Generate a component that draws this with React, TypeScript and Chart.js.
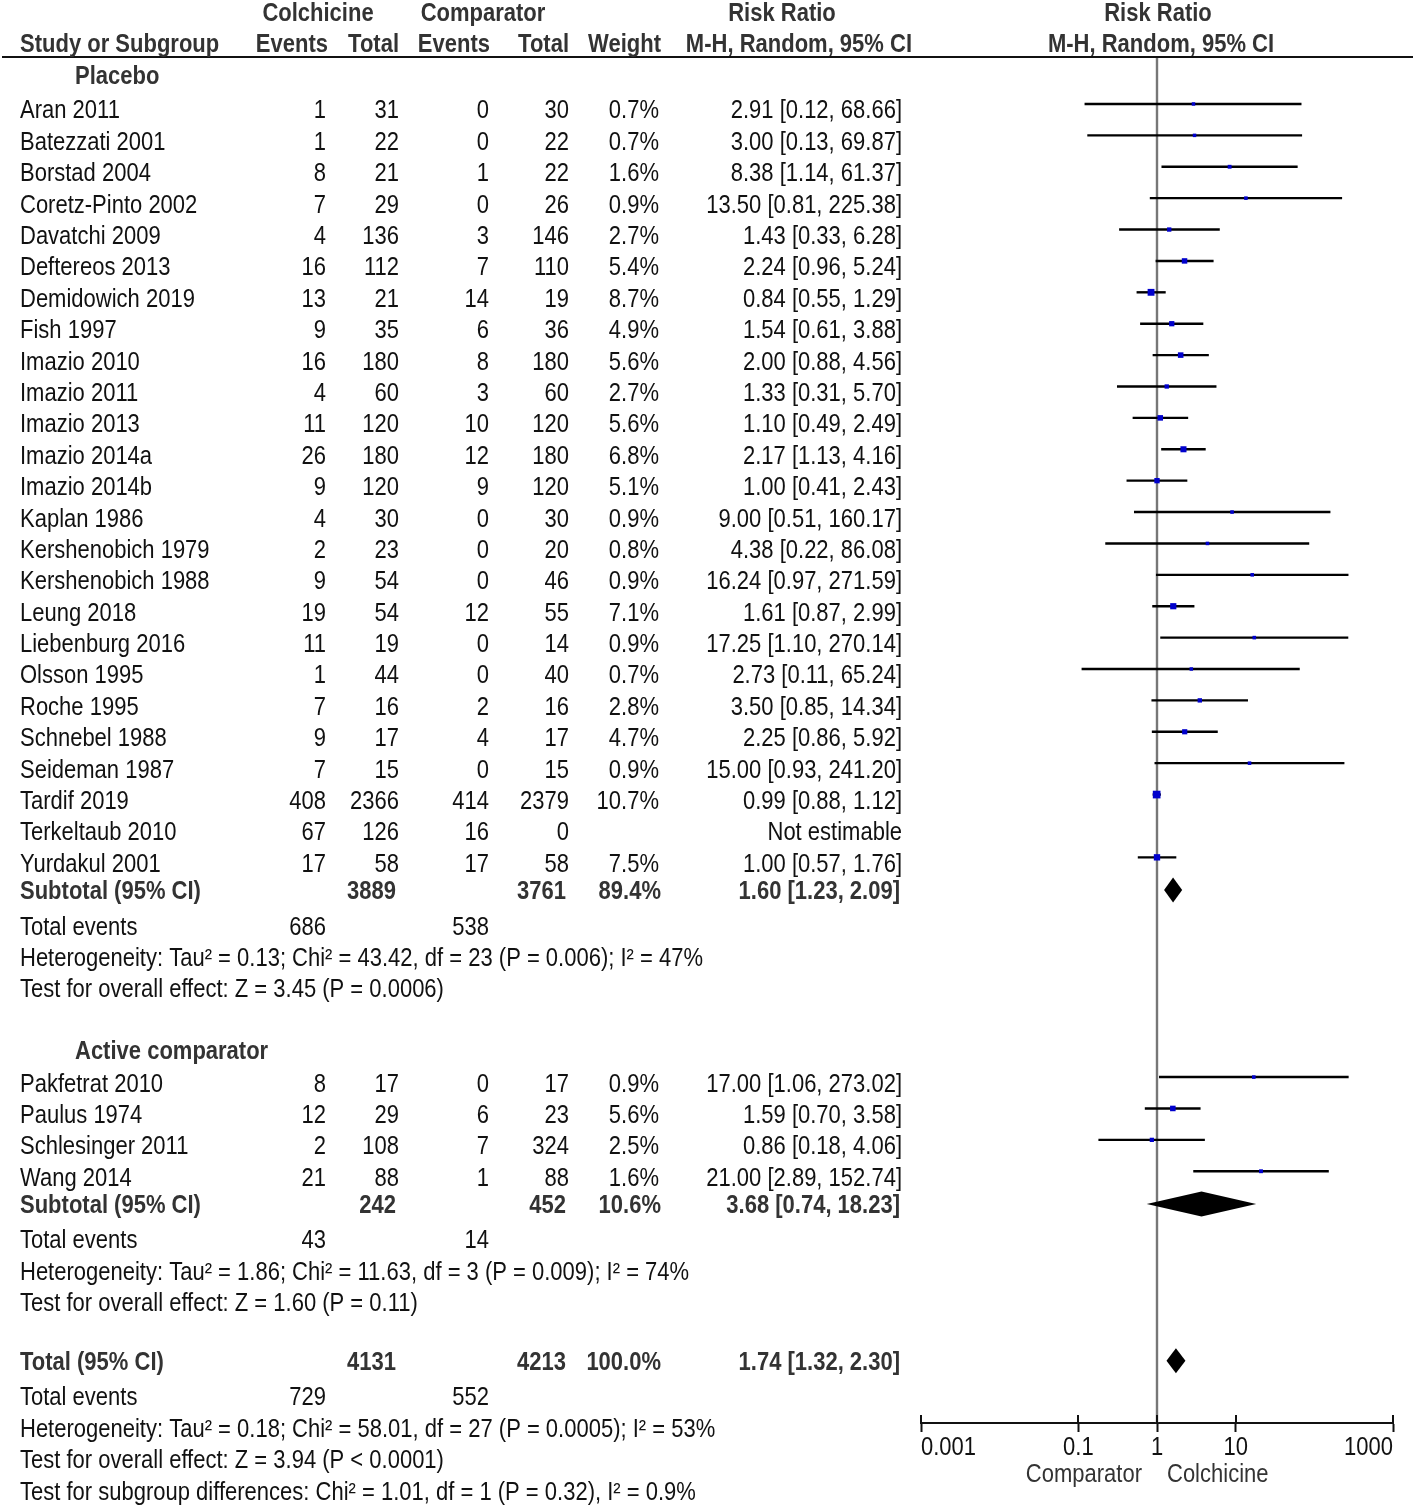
import React, { useEffect, useRef } from "react";
import { Chart, registerables } from "chart.js";

Chart.register(...registerables);

// ---------- DATA ----------
const studyNames = [
  "Aran 2011", "Batezzati 2001", "Borstad 2004", "Coretz-Pinto 2002", "Davatchi 2009",
  "Deftereos 2013", "Demidowich 2019", "Fish 1997", "Imazio 2010", "Imazio 2011",
  "Imazio 2013", "Imazio 2014a", "Imazio 2014b", "Kaplan 1986", "Kershenobich 1979",
  "Kershenobich 1988", "Leung 2018", "Liebenburg 2016", "Olsson 1995", "Roche 1995",
  "Schnebel 1988", "Seideman 1987", "Tardif 2019", "Terkeltaub 2010", "Yurdakul 2001",
  "Pakfetrat 2010", "Paulus 1974", "Schlesinger 2011", "Wang 2014",
];
const studyGroups = [
  0, 0, 0, 0, 0, 0, 0, 0, 0, 0, 0, 0, 0, 0, 0, 0, 0, 0, 0, 0, 0, 0, 0, 0, 0,
  1, 1, 1, 1,
];
const colchicineEvents = [1, 1, 8, 7, 4, 16, 13, 9, 16, 4, 11, 26, 9, 4, 2, 9, 19, 11, 1, 7, 9, 7, 408, 67, 17, 8, 12, 2, 21];
const colchicineTotals = [31, 22, 21, 29, 136, 112, 21, 35, 180, 60, 120, 180, 120, 30, 23, 54, 54, 19, 44, 16, 17, 15, 2366, 126, 58, 17, 29, 108, 88];
const comparatorEvents = [0, 0, 1, 0, 3, 7, 14, 6, 8, 3, 10, 12, 9, 0, 0, 0, 12, 0, 0, 2, 4, 0, 414, 16, 17, 0, 6, 7, 1];
const comparatorTotals = [30, 22, 22, 26, 146, 110, 19, 36, 180, 60, 120, 180, 120, 30, 20, 46, 55, 14, 40, 16, 17, 15, 2379, 0, 58, 17, 23, 324, 88];
const weights: (number | null)[] = [0.7, 0.7, 1.6, 0.9, 2.7, 5.4, 8.7, 4.9, 5.6, 2.7, 5.6, 6.8, 5.1, 0.9, 0.8, 0.9, 7.1, 0.9, 0.7, 2.8, 4.7, 0.9, 10.7, null, 7.5, 0.9, 5.6, 2.5, 1.6];
const riskRatios: (number | null)[] = [2.91, 3.0, 8.38, 13.5, 1.43, 2.24, 0.84, 1.54, 2.0, 1.33, 1.1, 2.17, 1.0, 9.0, 4.38, 16.24, 1.61, 17.25, 2.73, 3.5, 2.25, 15.0, 0.99, null, 1.0, 17.0, 1.59, 0.86, 21.0];
const ciLower: (number | null)[] = [0.12, 0.13, 1.14, 0.81, 0.33, 0.96, 0.55, 0.61, 0.88, 0.31, 0.49, 1.13, 0.41, 0.51, 0.22, 0.97, 0.87, 1.1, 0.11, 0.85, 0.86, 0.93, 0.88, null, 0.57, 1.06, 0.7, 0.18, 2.89];
const ciUpper: (number | null)[] = [68.66, 69.87, 61.37, 225.38, 6.28, 5.24, 1.29, 3.88, 4.56, 5.7, 2.49, 4.16, 2.43, 160.17, 86.08, 271.59, 2.99, 270.14, 65.24, 14.34, 5.92, 241.2, 1.12, null, 1.76, 273.02, 3.58, 4.06, 152.74];

const groupNames = ["Placebo", "Active comparator"];
const summaryLabels = ["Subtotal (95% CI)", "Subtotal (95% CI)", "Total (95% CI)"];
const summaryColTotals = [3889, 242, 4131];
const summaryCmpTotals = [3761, 452, 4213];
const summaryWeights = ["89.4%", "10.6%", "100.0%"];
const summaryRR = [1.6, 3.68, 1.74];
const summaryLower = [1.23, 0.74, 1.32];
const summaryUpper = [2.09, 18.23, 2.3];
const totalEventsCol = [686, 43, 729];
const totalEventsCmp = [538, 14, 552];
const heterogeneityTexts = [
  "Heterogeneity: Tau² = 0.13; Chi² = 43.42, df = 23 (P = 0.006); I² = 47%",
  "Heterogeneity: Tau² = 1.86; Chi² = 11.63, df = 3 (P = 0.009); I² = 74%",
  "Heterogeneity: Tau² = 0.18; Chi² = 58.01, df = 27 (P = 0.0005); I² = 53%",
];
const overallEffectTexts = [
  "Test for overall effect: Z = 3.45 (P = 0.0006)",
  "Test for overall effect: Z = 1.60 (P = 0.11)",
  "Test for overall effect: Z = 3.94 (P < 0.0001)",
];
const subgroupDiffText = "Test for subgroup differences: Chi² = 1.01, df = 1 (P = 0.32), I² = 0.9%";
const xTickValues = [0.001, 0.1, 1, 10, 1000];
const xTickLabels = ["0.001", "0.1", "1", "10", "1000"];
const favoursLeft = "Comparator";
const favoursRight = "Colchicine";

// ---------- LAYOUT ----------
const W = 1418;
const H = 1506;
const ROW0 = 109; // pixel centre of first study row
const ROW_H = 31.39;
const AREA_TOP = 58;
const AREA_BOTTOM = 1423;
const AREA_LEFT = 921;
const AREA_RIGHT = 1393;
const Y_MIN = (AREA_TOP - ROW0) / ROW_H;
const Y_MAX = (AREA_BOTTOM - ROW0) / ROW_H;
const SY = 1.2; // vertical stretch of text
const FONT_PX = 22;
const BASE_OFF = 9.45;
const STUDY_PLOT_OFF = -0.16;

// row index of each study
const studyRows = studyGroups.map((g, i) => {
  if (g === 0) return i;
  const firstActive = studyGroups.indexOf(1);
  return 31 + (i - firstActive);
});
const summaryRows = [24.88, 34.88, 39.88];
const groupHeaderRows = [-1.11, 29.95];
const footRowsStart = [26, 36, 41];

const COL = {
  name: 20,
  group: 75,
  colEv: 326,
  colTot: 399,
  cmpEv: 489,
  cmpTot: 569,
  weight: 659,
  rr: 902,
};

const fmt2 = (v: number) => v.toFixed(2);

function drawText(
  ctx: CanvasRenderingContext2D,
  s: string,
  x: number,
  yBase: number,
  align: CanvasTextAlign,
  bold: boolean,
  color: string
) {
  ctx.save();
  ctx.translate(x, yBase);
  ctx.scale(1, SY);
  ctx.font = `${bold ? "bold " : ""}${FONT_PX}px "Liberation Sans", Arial, sans-serif`;
  ctx.fillStyle = color;
  ctx.textAlign = align;
  ctx.textBaseline = "alphabetic";
  ctx.fillText(s, 0, 0);
  ctx.restore();
}

const TXT = "#111111";
const BOLD_TXT = "#333333";

const forestPlugin = {
  id: "forestPlot",
  afterDatasetsDraw(chart: any) {
    const ctx: CanvasRenderingContext2D = chart.ctx;
    const xs = chart.scales.x;
    const ys = chart.scales.y;
    ctx.save();
    ctx.fillStyle = "#000000";
    summaryRows.forEach((r, i) => {
      const yc = ys.getPixelForValue(r);
      const xl = xs.getPixelForValue(summaryLower[i]);
      const xc = xs.getPixelForValue(summaryRR[i]);
      const xr = xs.getPixelForValue(summaryUpper[i]);
      const hh = 12.5;
      ctx.beginPath();
      ctx.moveTo(xl, yc);
      ctx.lineTo(xc, yc - hh);
      ctx.lineTo(xr, yc);
      ctx.lineTo(xc, yc + hh);
      ctx.closePath();
      ctx.fill();
    });
    ctx.restore();
  },
  afterDraw(chart: any) {
    const ctx: CanvasRenderingContext2D = chart.ctx;
    const xs = chart.scales.x;
    const ys = chart.scales.y;
    const base = (r: number) => ys.getPixelForValue(r) + BASE_OFF;

    // header rule
    ctx.save();
    ctx.strokeStyle = "#111111";
    ctx.lineWidth = 2;
    ctx.beginPath();
    ctx.moveTo(2, AREA_TOP - 1);
    ctx.lineTo(1413, AREA_TOP - 1);
    ctx.stroke();
    ctx.restore();

    // column headers
    const h1 = base(-3.12);
    const h2 = base(-2.11);
    drawText(ctx, "Colchicine", 318, h1, "center", true, BOLD_TXT);
    drawText(ctx, "Comparator", 483, h1, "center", true, BOLD_TXT);
    drawText(ctx, "Risk Ratio", 782, h1, "center", true, BOLD_TXT);
    drawText(ctx, "Risk Ratio", 1158, h1, "center", true, BOLD_TXT);
    drawText(ctx, "Study or Subgroup", COL.name, h2, "left", true, BOLD_TXT);
    drawText(ctx, "Events", 328, h2, "right", true, BOLD_TXT);
    drawText(ctx, "Total", 399, h2, "right", true, BOLD_TXT);
    drawText(ctx, "Events", 490, h2, "right", true, BOLD_TXT);
    drawText(ctx, "Total", 569, h2, "right", true, BOLD_TXT);
    drawText(ctx, "Weight", 661, h2, "right", true, BOLD_TXT);
    drawText(ctx, "M-H, Random, 95% CI", 912, h2, "right", true, BOLD_TXT);
    drawText(ctx, "M-H, Random, 95% CI", 1161, h2, "center", true, BOLD_TXT);

    // group headers
    groupNames.forEach((g, i) => {
      drawText(ctx, g, COL.group, base(groupHeaderRows[i]), "left", true, BOLD_TXT);
    });

    // study rows
    studyNames.forEach((name, i) => {
      const yb = base(studyRows[i]);
      drawText(ctx, name, COL.name, yb, "left", false, TXT);
      drawText(ctx, String(colchicineEvents[i]), COL.colEv, yb, "right", false, TXT);
      drawText(ctx, String(colchicineTotals[i]), COL.colTot, yb, "right", false, TXT);
      drawText(ctx, String(comparatorEvents[i]), COL.cmpEv, yb, "right", false, TXT);
      drawText(ctx, String(comparatorTotals[i]), COL.cmpTot, yb, "right", false, TXT);
      const w = weights[i];
      if (w !== null) drawText(ctx, `${w.toFixed(1)}%`, COL.weight, yb, "right", false, TXT);
      const rr = riskRatios[i];
      const lo = ciLower[i];
      const hi = ciUpper[i];
      const s = rr !== null && lo !== null && hi !== null
        ? `${fmt2(rr)} [${fmt2(lo)}, ${fmt2(hi)}]`
        : "Not estimable";
      drawText(ctx, s, COL.rr, yb, "right", false, TXT);
    });

    // summary rows
    summaryRows.forEach((r, i) => {
      const yb = base(r);
      drawText(ctx, summaryLabels[i], COL.name, yb, "left", true, BOLD_TXT);
      drawText(ctx, String(summaryColTotals[i]), 396, yb, "right", true, BOLD_TXT);
      drawText(ctx, String(summaryCmpTotals[i]), 566, yb, "right", true, BOLD_TXT);
      drawText(ctx, summaryWeights[i], 661, yb, "right", true, BOLD_TXT);
      drawText(
        ctx,
        `${fmt2(summaryRR[i])} [${fmt2(summaryLower[i])}, ${fmt2(summaryUpper[i])}]`,
        900, yb, "right", true, BOLD_TXT
      );
    });

    // footnotes
    footRowsStart.forEach((r, i) => {
      const y0 = base(r);
      drawText(ctx, "Total events", COL.name, y0, "left", false, TXT);
      drawText(ctx, String(totalEventsCol[i]), COL.colEv, y0, "right", false, TXT);
      drawText(ctx, String(totalEventsCmp[i]), COL.cmpEv, y0, "right", false, TXT);
      drawText(ctx, heterogeneityTexts[i], COL.name, base(r + 1), "left", false, TXT);
      drawText(ctx, overallEffectTexts[i], COL.name, base(r + 2), "left", false, TXT);
    });
    drawText(ctx, subgroupDiffText, COL.name, base(44), "left", false, TXT);

    // axis: inward tick halves + labels
    const ab = chart.chartArea.bottom;
    ctx.save();
    ctx.strokeStyle = "#111111";
    ctx.lineWidth = 2;
    xTickValues.forEach((v) => {
      const px = Math.round(xs.getPixelForValue(v));
      ctx.beginPath();
      ctx.moveTo(px, ab - 8);
      ctx.lineTo(px, ab);
      ctx.stroke();
    });
    ctx.restore();
    xTickValues.forEach((v, i) => {
      const px = xs.getPixelForValue(v);
      const align: CanvasTextAlign = i === 0 ? "left" : i === xTickValues.length - 1 ? "right" : "center";
      drawText(ctx, xTickLabels[i], px, ab + 31.5, align, false, TXT);
    });
    const onePx = xs.getPixelForValue(1);
    drawText(ctx, favoursLeft, onePx - 15, ab + 58.5, "right", false, "#333333");
    drawText(ctx, favoursRight, onePx + 10, ab + 58.5, "left", false, "#333333");
  },
};

export default function App() {
  const canvasRef = useRef<HTMLCanvasElement | null>(null);

  useEffect(() => {
    const canvas = canvasRef.current;
    if (!canvas) return;

    const ciDatasets = studyNames
      .map((name, i) => ({ name, i }))
      .filter(({ i }) => ciLower[i] !== null && ciUpper[i] !== null)
      .map(({ name, i }) => ({
        label: name,
        data: [
          { x: ciLower[i] as number, y: studyRows[i] + STUDY_PLOT_OFF },
          { x: ciUpper[i] as number, y: studyRows[i] + STUDY_PLOT_OFF },
        ],
        showLine: true,
        borderColor: "#000000",
        borderWidth: 2.4,
        pointRadius: 0,
        order: 2,
      }));

    const squareIdx = studyNames.map((_, i) => i).filter((i) => riskRatios[i] !== null);
    const squares = {
      label: "Risk ratio",
      data: squareIdx.map((i) => ({ x: riskRatios[i] as number, y: studyRows[i] + STUDY_PLOT_OFF })),
      pointStyle: "rect",
      pointRadius: squareIdx.map((i) => (3.2 + 0.42 * (weights[i] as number)) / Math.SQRT2),
      backgroundColor: "#0000cc",
      borderColor: "#0000cc",
      borderWidth: 0,
      showLine: false,
      order: 0,
    };

    const refLine = {
      label: "No effect",
      data: [
        { x: 1, y: Y_MIN },
        { x: 1, y: Y_MAX },
      ],
      showLine: true,
      borderColor: "#777777",
      borderWidth: 2.4,
      pointRadius: 0,
      order: 5,
    };

    const chart = new Chart(canvas, {
      type: "scatter",
      data: { datasets: [squares, ...ciDatasets, refLine] as any },
      options: {
        responsive: false,
        animation: false,
        devicePixelRatio: 1,
        events: [],
        layout: { padding: { left: AREA_LEFT, right: W - AREA_RIGHT, top: AREA_TOP, bottom: 0 } },
        plugins: { legend: { display: false }, tooltip: { enabled: false }, title: { display: false } },
        scales: {
          x: {
            type: "logarithmic",
            min: 0.001,
            max: 1000,
            position: "bottom",
            border: { display: true, color: "#111111", width: 2 },
            grid: {
              display: true,
              drawOnChartArea: false,
              drawTicks: true,
              tickLength: 9,
              tickWidth: 2,
              tickColor: "#111111",
            },
            ticks: { display: false },
            afterBuildTicks: (scale: any) => {
              scale.ticks = xTickValues.map((v) => ({ value: v }));
            },
            afterFit: (scale: any) => {
              scale.height = H - AREA_BOTTOM;
            },
          },
          y: {
            type: "linear",
            display: false,
            reverse: true,
            min: Y_MIN,
            max: Y_MAX,
          },
        },
      } as any,
      plugins: [forestPlugin],
    });

    return () => chart.destroy();
  }, []);

  return (
    <div style={{ position: "absolute", left: 0, top: 0, width: W, height: H, background: "#fff" }}>
      <canvas ref={canvasRef} width={W} height={H} style={{ display: "block" }} />
    </div>
  );
}
